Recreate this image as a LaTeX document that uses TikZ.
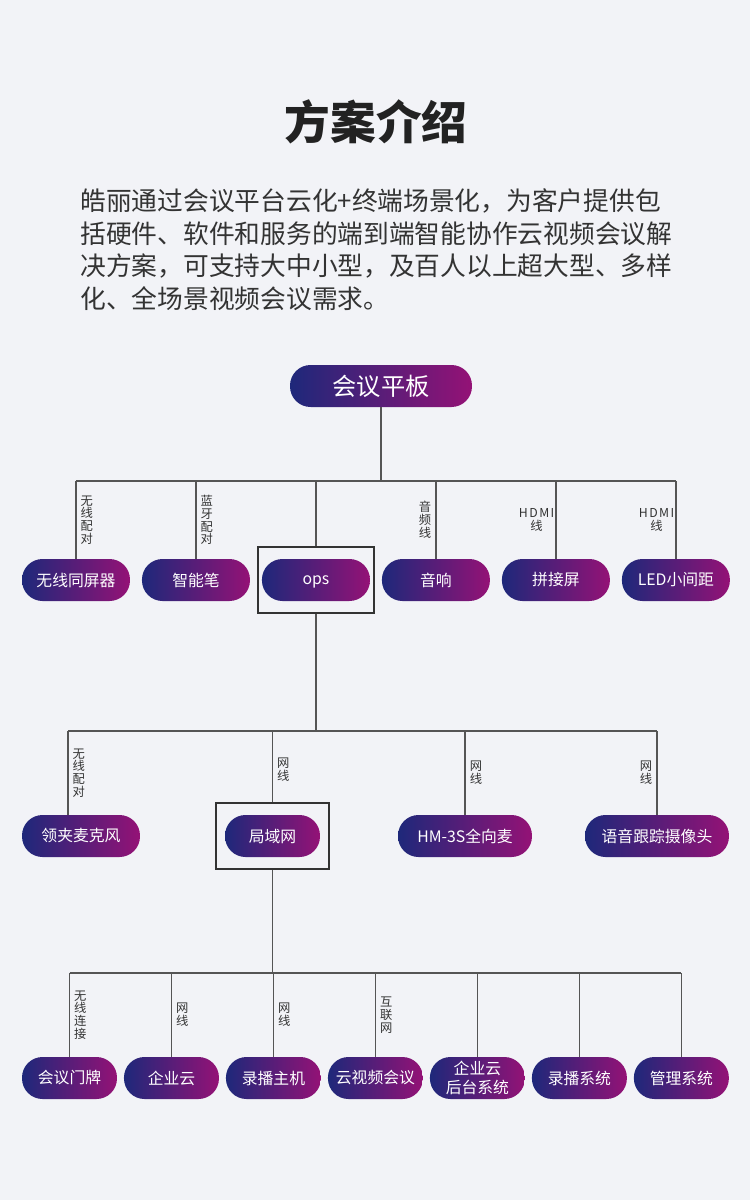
\documentclass[tikz,border=0pt]{standalone}
\usepackage{fontspec}
\setmainfont{Noto Sans CJK SC}
\usepackage{xcolor}
\usepackage{tikz}
\usetikzlibrary{positioning, fit, calc}
\definecolor{hlbg}{RGB}{242, 243, 247}
\definecolor{hlnavy}{RGB}{30, 40, 122}
\definecolor{hlmagenta}{RGB}{148, 18, 118}
\definecolor{hlline}{RGB}{85, 85, 85}
\definecolor{hlframe}{RGB}{51, 51, 51}
\definecolor{hltitle}{RGB}{34, 34, 34}
\definecolor{hltext}{RGB}{51, 51, 51}
\tikzset{
    pill/.style={rectangle, rounded corners=0.41cm, minimum width=2.16cm,
                 minimum height=0.84cm, inner sep=1pt, outer sep=0pt,
                 align=center, left color=hlnavy, right color=hlmagenta,
                 text=white, font=\fontsize{9}{10.5}\selectfont},
    framebox/.style={rectangle, draw=hlframe, line width=1.1pt,
                     inner xsep=0.08cm, inner ysep=0.24cm},
    link/.style={draw=hlline, line width=0.8pt},
    tag/.style={font=\fontsize{7}{7.3}\selectfont, text=hltext,
                align=center, inner xsep=2.3pt, inner ysep=0pt},
}
\newcommand{\spaced}[1]{{\addfontfeature{LetterSpace=12}#1}}
\begin{document}
\begin{tikzpicture}[x=0.02cm, y=-0.02cm]
    \fill[hlbg] (0,0) rectangle (750,1200);
    \useasboundingbox (0,0) rectangle (750,1200);

    % Heading
    \node[font=\bfseries\fontsize{26}{30}\selectfont, text=hltitle] (title) at (376,122) {方案介绍};
    \node[anchor=north west, align=left, inner sep=0pt, text=hltext,
          font=\fontsize{14.65}{18.55}\selectfont] (intro) at (80,188.5)
        {皓丽通过会议平台云化+终端场景化，为客户提供包\\
         括硬件、软件和服务的端到端智能协作云视频会议解\\
         决方案，可支持大中小型，及百人以上超大型、多样\\
         化、全场景视频会议需求。};

    % Top
    \node[pill, minimum width=3.64cm, font=\fontsize{13.8}{16}\selectfont] (panel) at (381,386) {会议平板};

    % Row 1
    \node[pill] (cast) at (76,580) {无线同屏器};
    \node[pill, right=0.24cm of cast] (pen) {智能笔};
    \node[pill, right=0.24cm of pen, text height=0.75em, text depth=0.2em] (ops) {ops};
    \node[pill, right=0.24cm of ops] (audio) {音响};
    \node[pill, right=0.24cm of audio] (splice) {拼接屏};
    \node[pill, right=0.24cm of splice] (led) {LED小间距};
    \node[framebox, fit=(ops)] (opsbox) {};

    % Row 2
    \node[pill, minimum width=2.36cm] (mic) at (81,836) {领夹麦克风};
    \node[pill, minimum width=1.9cm] (lan) at (272.5,836) {局域网};
    \node[pill, minimum width=2.68cm] (hm3s) at (465,836) {HM-3S全向麦};
    \node[pill, minimum width=2.88cm] (cam) at (657,836) {语音跟踪摄像头};
    \node[framebox, fit=(lan), inner xsep=0.18cm] (lanbox) {};

    % Row 3
    \node[pill, minimum width=1.9cm] (door) at (69.5,1078) {会议门牌};
    \node[pill, minimum width=1.9cm, right=0.14cm of door] (ecloud) {企业云};
    \node[pill, minimum width=1.9cm, right=0.14cm of ecloud] (host) {录播主机};
    \node[pill, minimum width=1.9cm, right=0.14cm of host] (cloudvc) {云视频会议};
    \node[pill, minimum width=1.9cm, right=0.14cm of cloudvc] (backend) {企业云\\后台系统};
    \node[pill, minimum width=1.9cm, right=0.14cm of backend] (recsys) {录播系统};
    \node[pill, minimum width=1.9cm, right=0.14cm of recsys] (mgmt) {管理系统};

    % Buses
    \coordinate (bus1) at (0,481);
    \coordinate (bus2) at (0,731);
    \coordinate (bus3) at (0,973);
    \coordinate (micdrop) at (68,731);

    % Top to row 1
    \draw[link] (panel.south) -- (panel.south |- bus1);
    \draw[link] (cast.north |- bus1) -- (led.north |- bus1);
    \draw[link] (cast.north |- bus1) -- node[tag, right] {无\\线\\配\\对} (cast.north);
    \draw[link] (pen.north |- bus1) -- node[tag, right] {蓝\\牙\\配\\对} (pen.north);
    \draw[link] (opsbox.north |- bus1) -- (opsbox.north);
    \draw[link] (audio.north |- bus1) -- node[tag, left] {音\\频\\线} (audio.north);
    \draw[link] (splice.north |- bus1) -- node[tag, left, inner xsep=0.5pt] {\spaced{HDMI}\\线} (splice.north);
    \draw[link] (led.north |- bus1) -- node[tag, left, inner xsep=0.5pt] {\spaced{HDMI}\\线} (led.north);

    % ops to row 2
    \draw[link] (opsbox.south) -- (opsbox.south |- bus2);
    \draw[link] (micdrop) -- (cam.north |- bus2);
    \draw[link] (micdrop) -- node[tag, right] {无\\线\\配\\对} (micdrop |- mic.north);
    \draw[link] (lanbox.north |- bus2) -- node[tag, right, pos=0.55] {网\\线} (lanbox.north);
    \draw[link] (hm3s.north |- bus2) -- node[tag, right] {网\\线} (hm3s.north);
    \draw[link] (cam.north |- bus2) -- node[tag, left] {网\\线} (cam.north);

    % LAN to row 3
    \draw[link] (lanbox.south) -- (lanbox.south |- bus3);
    \draw[link] (door.north |- bus3) -- (mgmt.north |- bus3);
    \draw[link] (door.north |- bus3) -- node[tag, right] {无\\线\\连\\接} (door.north);
    \draw[link] (ecloud.north |- bus3) -- node[tag, right] {网\\线} (ecloud.north);
    \draw[link] (host.north |- bus3) -- node[tag, right] {网\\线} (host.north);
    \draw[link] (cloudvc.north |- bus3) -- node[tag, right] {互\\联\\网} (cloudvc.north);
    \draw[link] (backend.north |- bus3) -- (backend.north);
    \draw[link] (recsys.north |- bus3) -- (recsys.north);
    \draw[link] (mgmt.north |- bus3) -- (mgmt.north);
\end{tikzpicture}
\end{document}
